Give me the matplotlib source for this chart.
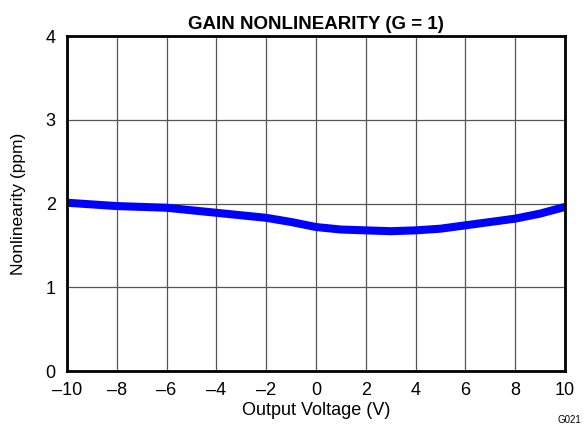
import numpy as np
import matplotlib.pyplot as plt

plt.rcParams['font.family'] = ['Liberation Sans', 'DejaVu Sans']

# output voltage (V) vs gain nonlinearity (ppm)
vout = [-10, -9, -8, -7, -6, -5, -4, -3, -2, -1, 0, 1, 2, 3, 4, 5, 6, 7, 8, 9, 10]
nonlin = [2.01, 1.99, 1.97, 1.96, 1.95, 1.92, 1.89, 1.86, 1.83, 1.78, 1.72,
          1.69, 1.68, 1.67, 1.68, 1.70, 1.74, 1.78, 1.82, 1.88, 1.96]
xticks = [-10, -8, -6, -4, -2, 0, 2, 4, 6, 8, 10]
yticks = [0, 1, 2, 3, 4]

fig = plt.figure(figsize=(5.87, 4.29), dpi=100)
ax = fig.add_axes([0.114, 0.135, 0.8485, 0.781])

ax.plot(vout, nonlin, color="#0000ff", lw=5.8, solid_capstyle="butt", zorder=3)

ax.set_xlim(-10, 10)
ax.set_ylim(0, 4)
ax.set_xticks(xticks)
ax.set_yticks(yticks)
ax.set_xticklabels([f"{t}".replace("-", "\u2013") for t in xticks])
ax.tick_params(length=0, labelsize=13)
ax.tick_params(axis="x", pad=8)
ax.tick_params(axis="y", pad=8)
ax.grid(True, color="#555555", lw=0.9)
for s in ax.spines.values():
    s.set_linewidth(2)
    s.set_zorder(4)

ax.set_title("GAIN NONLINEARITY (G = 1)", fontsize=13.5, fontweight="bold", pad=5)
ax.set_xlabel("Output Voltage (V)", fontsize=13, labelpad=2)
ax.set_ylabel("Nonlinearity (ppm)", fontsize=12.5, labelpad=14)
fig.text(0.99, 0.01, "G021", fontsize=7, ha="right", va="bottom")

fig.savefig("out.png", dpi=100)
